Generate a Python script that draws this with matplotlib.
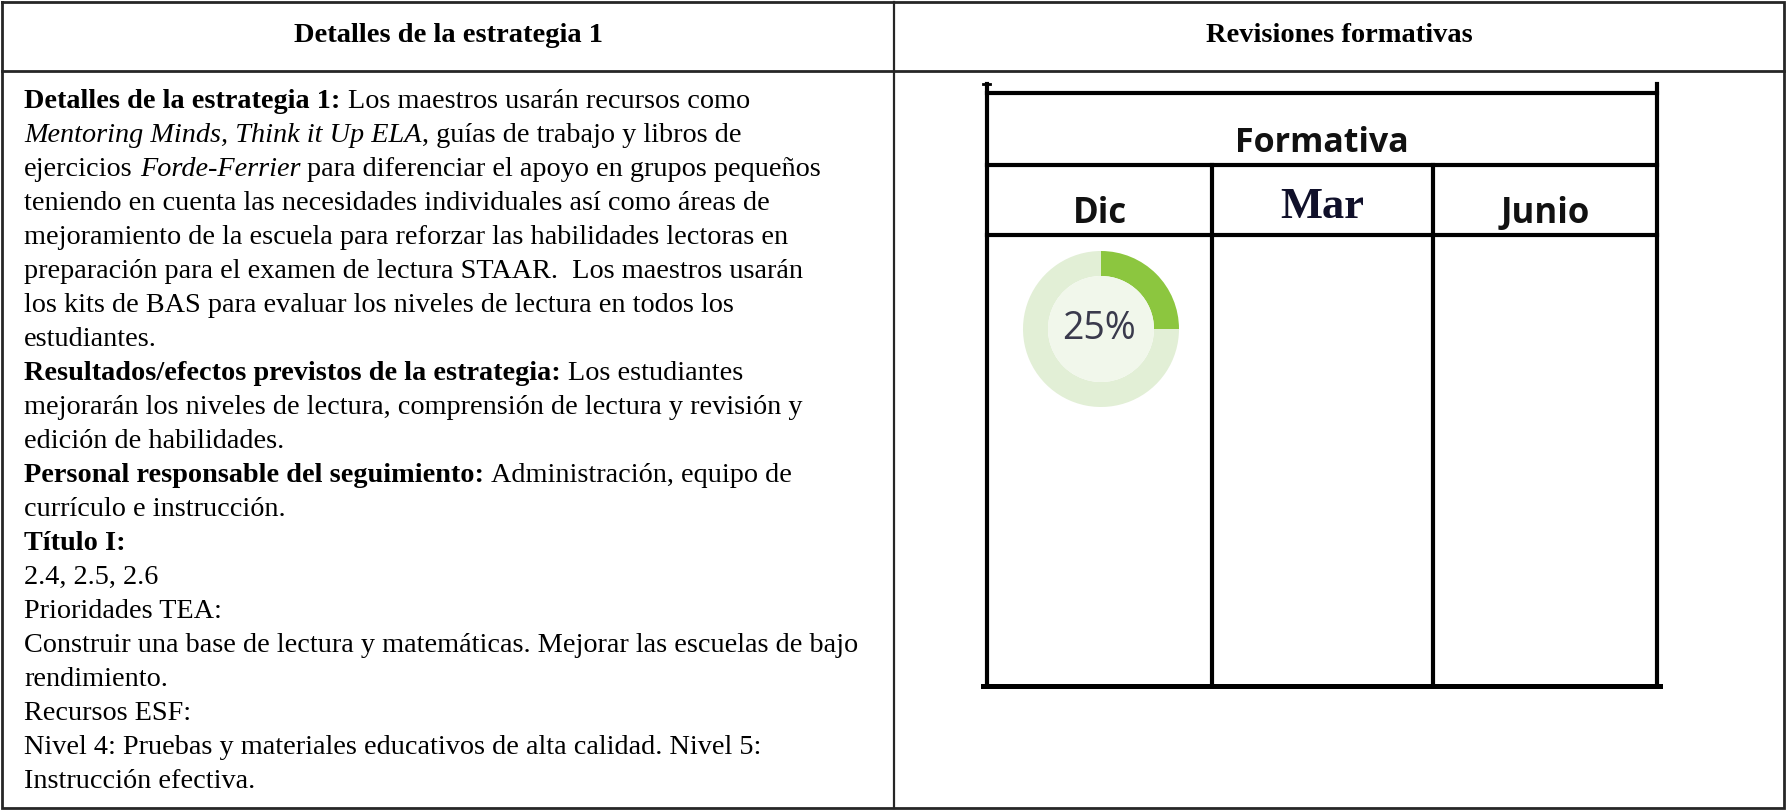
import matplotlib
matplotlib.use("Agg")
import matplotlib.pyplot as plt
from matplotlib.patches import Circle

# ---------------- data ----------------
left_header = "Detalles de la estrategia 1"
right_header = "Revisiones formativas"
inner_title = "Formativa"
periods = ["Dic", "Mar", "Junio"]
dic_progress = 25          # percent shown in the Dic donut
body_lines = [
    [("Detalles de la estrategia 1:", "b"), (" Los maestros usarán recursos como", "r")],
    [("Mentoring Minds, Think it Up ELA", "i"), (", guías de trabajo y libros de", "r")],
    [("ejercicios ", "r"), ("Forde-Ferrier", "i"), (" para diferenciar el apoyo en grupos pequeños", "r")],
    [("teniendo en cuenta las necesidades individuales así como áreas de", "r")],
    [("mejoramiento de la escuela para reforzar las habilidades lectoras en", "r")],
    [("preparación para el examen de lectura STAAR.  Los maestros usarán", "r")],
    [("los kits de BAS para evaluar los niveles de lectura en todos los", "r")],
    [("estudiantes.", "r")],
    [("Resultados/efectos previstos de la estrategia:", "b"), (" Los estudiantes", "r")],
    [("mejorarán los niveles de lectura, comprensión de lectura y revisión y", "r")],
    [("edición de habilidades.", "r")],
    [("Personal responsable del seguimiento:", "b"), (" Administración, equipo de", "r")],
    [("currículo e instrucción.", "r")],
    [("Título I:", "b")],
    [("2.4, 2.5, 2.6", "r")],
    [("Prioridades TEA:", "r")],
    [("Construir una base de lectura y matemáticas. Mejorar las escuelas de bajo", "r")],
    [("rendimiento.", "r")],
    [("Recursos ESF:", "r")],
    [("Nivel 4: Pruebas y materiales educativos de alta calidad. Nivel 5:", "r")],
    [("Instrucción efectiva.", "r")],
]

# ---------------- layout ----------------
W, H = 1786, 810
DPI = 100
fig = plt.figure(figsize=(W / DPI, H / DPI), dpi=DPI)
fig.patch.set_facecolor("white")
ax = fig.add_axes([0, 0, 1, 1])
ax.set_xlim(0, W)
ax.set_ylim(H, 0)
ax.axis("off")

serif = "Liberation Serif"
sans = "Open Sans"
body_fs = 20.3
header_fs = 20.5

# outer table
lc = "#262626"
olw = 2.0
ax.plot([2, W - 2, W - 2, 2, 2], [2, 2, H - 2.5, H - 2.5, 2], color=lc, lw=olw, solid_joinstyle="miter")
ax.plot([2, W - 2], [71, 71], color=lc, lw=olw)
ax.plot([894, 894], [2, H - 2], color=lc, lw=olw - 0.4)

ax.text(448, 36, left_header, fontsize=header_fs, fontweight="bold", family=serif,
        ha="center", va="center")
ax.text(1339, 36, right_header, fontsize=header_fs, fontweight="bold", family=serif,
        ha="center", va="center")

# body text with inline runs
fig.canvas.draw()
renderer = fig.canvas.get_renderer()
styles = {"r": dict(fontweight="normal", fontstyle="normal"),
          "b": dict(fontweight="bold", fontstyle="normal"),
          "i": dict(fontweight="normal", fontstyle="italic")}


def text_width(s, st):
    t = ax.text(0, 0, s, fontsize=body_fs, family=serif, **styles[st])
    w = t.get_window_extent(renderer).width
    t.remove()
    return w


space_w = {k: text_width("a a", k) - text_width("aa", k) for k in styles}

x0 = 24
y_base0 = 108
line_step = 34.0
for i, runs in enumerate(body_lines):
    x = x0
    yb = y_base0 + i * line_step
    for txt, st in runs:
        lead = len(txt) - len(txt.lstrip(" "))
        trail = len(txt) - len(txt.rstrip(" "))
        core = txt.strip(" ")
        x += lead * space_w[st]
        t = ax.text(x, yb, core, fontsize=body_fs, family=serif, va="baseline",
                    ha="left", color="black", **styles[st])
        x += t.get_window_extent(renderer).width + trail * space_w[st]

# inner "Formativa" table
ilw = 3.0
L, R = 987, 1657
top, mid1, mid2, bot = 93, 165, 235, 686
cols = [L, 1212, 1433, R]
ax.plot([L, L], [84, bot], color="black", lw=ilw)
ax.plot([R, R], [84, bot], color="black", lw=ilw)
ax.plot([983, 990], [84, 84], color="black", lw=2)
for yy in (top, mid1, mid2):
    ax.plot([L, R], [yy, yy], color="black", lw=ilw)
ax.plot([983, 1660], [bot, bot], color="black", lw=ilw + 0.6)
for cx in cols[1:3]:
    ax.plot([cx, cx], [mid1, bot], color="black", lw=ilw)

ax.text((L + R) / 2, 143, inner_title, fontsize=24.5, fontweight="bold", family=sans,
        ha="center", va="center", color="#111111")
label_y = [214, 207, 214]
for k, lab in enumerate(periods):
    cxm = (cols[k] + cols[k + 1]) / 2
    if lab == "Mar":
        ax.text(cxm, label_y[k], lab, fontsize=32, fontweight="bold", family=serif,
                ha="center", va="center", color="#10102a")
    else:
        ax.text(cxm, label_y[k], lab, fontsize=25, fontweight="bold", family=sans,
                ha="center", va="center", color="#111111")

# donut for Dic
cx, cy, r_out, r_in = 1101, 329, 78, 53
dax = fig.add_axes([(cx - r_out) / W, 1 - (cy + r_out) / H, 2 * r_out / W, 2 * r_out / H])
dax.set_xlim(-1, 1)
dax.set_ylim(-1, 1)
dax.set_aspect("equal")
dax.axis("off")
dax.pie([dic_progress, 100 - dic_progress], colors=["#8CC63F", "#E2EFD6"], startangle=90,
        counterclock=False, radius=1.0, wedgeprops=dict(width=(r_out - r_in) / r_out, linewidth=0))
dax.add_patch(Circle((0, 0), r_in / r_out, color="#F1F7EB", lw=0))
dax.set_xlim(-1, 1)
dax.set_ylim(-1, 1)
dax.text(-0.02, 0, f"{dic_progress}%", fontsize=27, family=sans, ha="center", va="center",
         color="#3a3a4c")

fig.savefig("out.png", dpi=DPI, facecolor="white")
